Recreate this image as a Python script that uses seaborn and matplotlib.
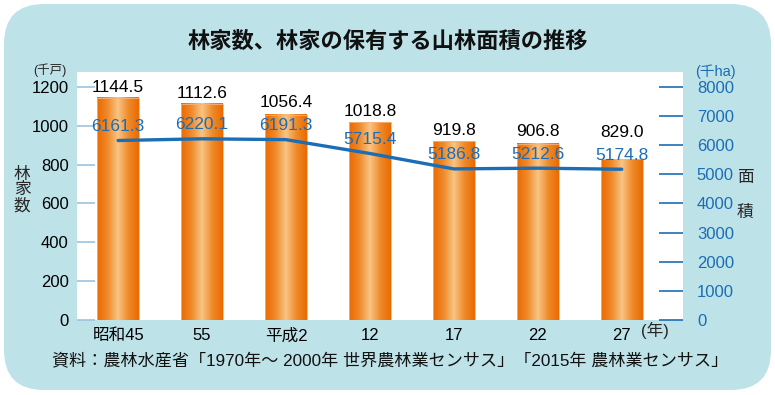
import numpy as np
import pandas as pd
import matplotlib
matplotlib.use("Agg")
import matplotlib.pyplot as plt
import seaborn as sns
from matplotlib.colors import LinearSegmentedColormap
from matplotlib.patches import FancyBboxPatch
from matplotlib.transforms import IdentityTransform

# データ
years = ["昭和45", "55", "平成2", "12", "17", "22", "27"]
households = [1144.5, 1112.6, 1056.4, 1018.8, 919.8, 906.8, 829.0]
forest_area = [6161.3, 6220.1, 6191.3, 5715.4, 5186.8, 5212.6, 5174.8]
left_ticks = [0, 200, 400, 600, 800, 1000, 1200]
right_ticks = [0, 1000, 2000, 3000, 4000, 5000, 6000, 7000, 8000]

title = "林家数、林家の保有する山林面積の推移"
source = "資料：農林水産省「1970年～ 2000年 世界農林業センサス」「2015年 農林業センサス」"

BG = "#bde2e8"
BLUE = "#1b6db5"
TICK_BLUE = "#9cc3df"

sns.set_theme(style="white")
plt.rcParams["font.family"] = ["Liberation Sans", "Noto Sans CJK JP", "DejaVu Sans"]

fig = plt.figure(figsize=(7.75, 3.95), dpi=100)
fig.patch.set_facecolor("white")

# 背景の角丸
bg = FancyBboxPatch((4, 5), 767, 386, boxstyle="round,pad=0,rounding_size=40",
                    transform=IdentityTransform(), facecolor=BG, edgecolor="none", zorder=-1)
fig.patches.append(bg)

ax = fig.add_axes([77 / 775, 75 / 395, 606 / 775, 248 / 395])
ax.set_zorder(1)
ax.set_facecolor("white")

df = pd.DataFrame({"year": years, "households": households})
sns.barplot(data=df, x="year", y="households", ax=ax, width=0.5,
            color="#f08a2a", edgecolor="none", zorder=2)

ymax = 1277
scale = 1200 / 8000  # 右軸 -> 左軸

# 棒のグラデーション
cmap = LinearSegmentedColormap.from_list(
    "bar", ["#ea6a00", "#f08a2a", "#f8c484", "#f08a2a", "#ea6a00"])
grad = np.linspace(0, 1, 256).reshape(1, -1)
for i, p in enumerate(list(ax.patches)):
    x0, w, h = p.get_x(), p.get_width(), p.get_height()
    ax.imshow(grad, cmap=cmap, aspect="auto", extent=(x0, x0 + w, 0, h), zorder=2)
    p.set_facecolor("none")
    p.set_edgecolor("#f7b47a")
    p.set_linewidth(0.6)
    p.set_zorder(3)
    # 折れ線の数値ラベルと重ならない位置に
    ly = max(h, (forest_area[i] + 230) * scale + 100)
    ax.text(x0 + w / 2, ly + 16, f"{h:.1f}", ha="center", va="bottom",
            fontsize=12.5, color="black", zorder=5)

ax.set_xlim(-0.49, 6.73)
ax.set_ylim(0, ymax)
ax.set_yticks(left_ticks)
ax.tick_params(axis="y", direction="in", length=13, width=1.2, color=TICK_BLUE,
               pad=6, labelsize=12, labelcolor="black", left=True)
ax.tick_params(axis="x", length=0, pad=6, labelsize=12, labelcolor="black")
ax.set_xlabel("")
ax.set_ylabel("")
for s in ax.spines.values():
    s.set_visible(False)

ax2 = ax.twinx()
ax2.set_ylim(0, ymax / scale)
sns.lineplot(x=np.arange(len(years)), y=forest_area, ax=ax2, color=BLUE,
             linewidth=2.4, zorder=4)
for i, v in enumerate(forest_area):
    ax2.text(i, v + 220, f"{v:.1f}", ha="center", va="bottom",
             fontsize=12.5, color=BLUE, zorder=5)
ax2.set_yticks(right_ticks)
ax2.tick_params(axis="y", direction="in", length=17, width=1.2, color=BLUE,
                pad=10, labelsize=12, labelcolor=BLUE, right=True)
for s in ax2.spines.values():
    s.set_visible(False)
ax2.set_xlim(-0.49, 6.73)

# テキスト
fig.text(0.5, 1 - 42 / 395, title, ha="center", va="center",
         fontsize=16, fontweight="bold", color="#111111")
fig.text(52 / 775, 1 - 360 / 395, source, ha="left", va="center",
         fontsize=12.3, color="#111111")
fig.text(50 / 775, 1 - 70 / 395, "(千戸)", ha="center", va="center", fontsize=9)
fig.text(715 / 775, 1 - 72 / 395, "(千ha)", ha="center", va="center", fontsize=10.5, color=BLUE)
fig.text(22 / 775, 1 - 190 / 395, "林\n家\n数", ha="center", va="center",
         fontsize=12, linespacing=1.05)
fig.text(745 / 775, 1 - 178 / 395, "面", ha="center", va="center", fontsize=12)
fig.text(745 / 775, 1 - 212 / 395, "積", ha="center", va="center", fontsize=12)
fig.text(655 / 775, 1 - 330 / 395, "(年)", ha="center", va="center", fontsize=12)

fig.savefig("out.png", dpi=100, facecolor="white")
